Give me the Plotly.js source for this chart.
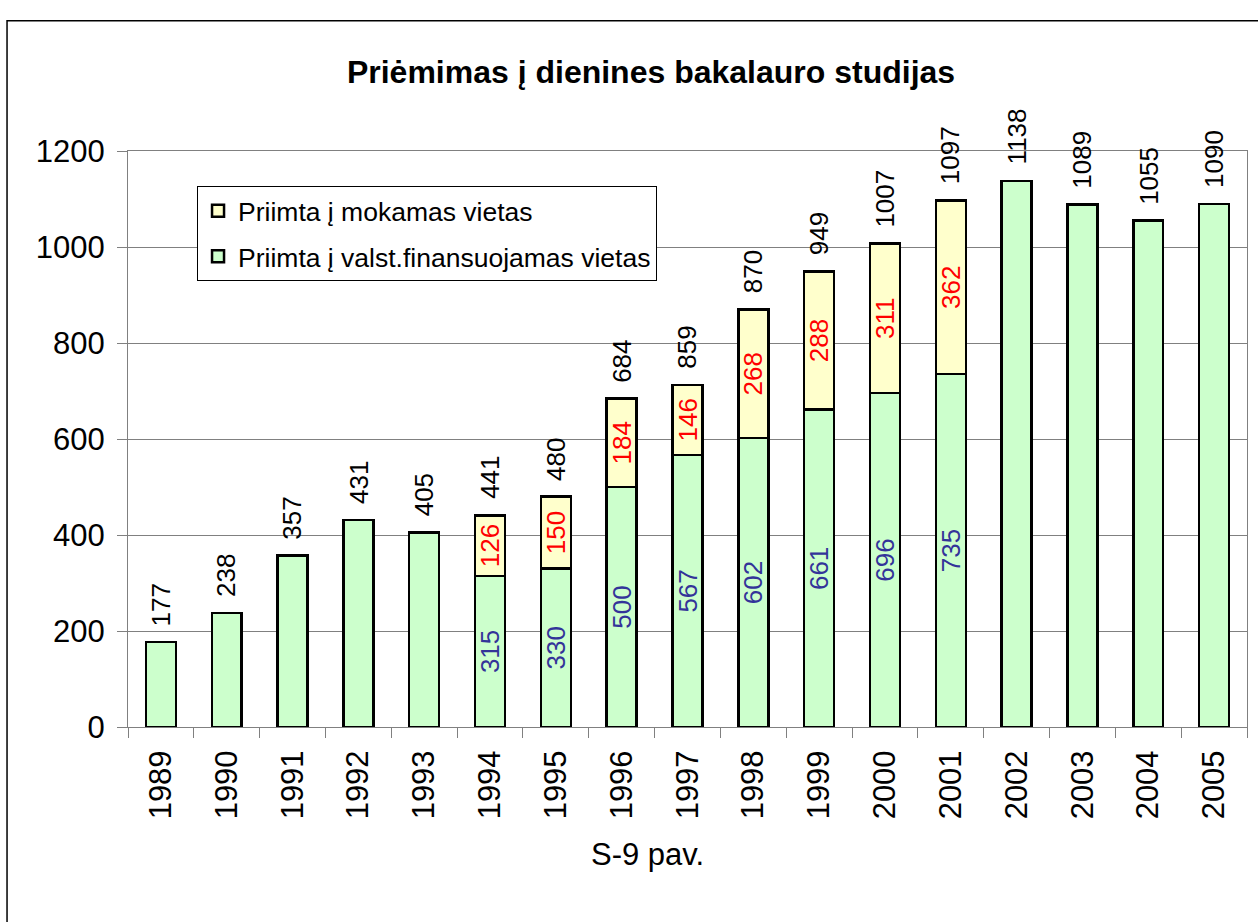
<!DOCTYPE html>
<html>
<head>
<meta charset="utf-8">
<script src="https://cdn.plot.ly/plotly-3.0.1.min.js"></script>
<style>
  html, body { margin: 0; padding: 0; background: #ffffff; }
  #chart { width: 1258px; height: 922px; }
</style>
</head>
<body>
<div id="chart"></div>
<script>
// ---- data ----
const years = ['1989','1990','1991','1992','1993','1994','1995','1996','1997','1998','1999','2000','2001','2002','2003','2004','2005'];
const stateFunded = [177, 238, 357, 431, 405, 315, 330, 500, 567, 602, 661, 696, 735, 1138, 1089, 1055, 1090];
const paidPlaces  = [null, null, null, null, null, 126, 150, 184, 146, 268, 288, 311, 362, null, null, null, null];
const totalLabels = ['177','238','357','431','405','441','480','684','859','870','949','1007','1097','1138','1089','1055','1090'];
const seriesNames = ['Priimta į valst.finansuojamas vietas', 'Priimta į mokamas vietas'];
const chartTitle = 'Priėmimas į dienines bakalauro studijas';
const captionText = 'S-9 pav.';

// ---- derived ----
const greenText = stateFunded.map((v, i) => paidPlaces[i] ? String(v) : '');
const paidText = paidPlaces.map(v => v ? String(v) : '');
const barTops = stateFunded.map((v, i) => v + (paidPlaces[i] || 0));

const FONT = 'Arial, "Liberation Sans", sans-serif';
const LABEL_SIZE = 26;

const traces = [
  {
    type: 'bar', x: years, y: stateFunded, name: seriesNames[0],
    legendgroup: 'g1', legendrank: 2,
    marker: { color: '#CCFFCC', line: { color: '#000000', width: 2.5 } },
    text: greenText, textposition: 'inside', insidetextanchor: 'middle',
    textangle: -90, constraintext: 'none',
    textfont: { family: FONT, size: LABEL_SIZE, color: '#333399' },
    hoverinfo: 'skip'
  },
  {
    type: 'bar', x: years, y: paidPlaces, name: seriesNames[1],
    legendgroup: 'g2', legendrank: 1,
    marker: { color: '#FFFFCC', line: { color: '#000000', width: 2.5 } },
    text: paidText, textposition: 'inside', insidetextanchor: 'middle',
    textangle: -90, constraintext: 'none',
    textfont: { family: FONT, size: LABEL_SIZE, color: '#FF0000' },
    hoverinfo: 'skip'
  }
];

// total labels: x given as category index (position on the category axis)
const annotations = years.map((yr, i) => ({
  x: i, y: barTops[i], xref: 'x', yref: 'y',
  text: totalLabels[i], textangle: -90, showarrow: false,
  xanchor: 'center', yanchor: 'bottom', yshift: 14,
  font: { family: FONT, size: LABEL_SIZE, color: '#000000' }
}));
annotations.push({
  x: 0.4647, y: -0.222, xref: 'paper', yref: 'paper',
  text: captionText, showarrow: false, xanchor: 'center', yanchor: 'middle',
  font: { family: FONT, size: 31, color: '#000000' }
});

const layout = {
  width: 1258, height: 922,
  margin: { l: 128, r: 11, t: 151, b: 195 },
  paper_bgcolor: '#ffffff', plot_bgcolor: '#ffffff',
  barmode: 'stack', bargap: 0.545,
  showlegend: true,
  title: {
    text: '<b>' + chartTitle + '</b>',
    x: 0.5175, xref: 'container', xanchor: 'center',
    y: 1 - 72 / 922, yref: 'container', yanchor: 'middle',
    font: { family: FONT, size: 32, color: '#000000' }
  },
  font: { family: FONT, color: '#000000' },
  xaxis: {
    type: 'category',
    range: [-0.5, years.length - 0.5], autorange: false,
    tickangle: -90,
    tickfont: { family: FONT, size: 31, color: '#000000' },
    ticks: 'outside', tickson: 'boundaries', ticklen: 10, tickcolor: '#808080', tickwidth: 1,
    ticklabelstandoff: 10,
    showline: true, linecolor: '#808080', linewidth: 1, mirror: true,
    showgrid: false, zeroline: false, fixedrange: true
  },
  yaxis: {
    range: [0, 1200], autorange: false, dtick: 200, tick0: 0,
    tickfont: { family: FONT, size: 31, color: '#000000' },
    ticks: 'outside', ticklen: 10, tickcolor: '#808080', tickwidth: 1,
    ticklabelstandoff: 6,
    showline: true, linecolor: '#808080', linewidth: 1, mirror: true,
    showgrid: true, gridcolor: '#808080', gridwidth: 1,
    zeroline: false, fixedrange: true
  },
  legend: {
    x: 0.0617, y: 0.939, xanchor: 'left', yanchor: 'top',
    xref: 'paper', yref: 'paper',
    bgcolor: '#ffffff', bordercolor: '#000000', borderwidth: 1,
    font: { family: FONT, size: 26.5, color: '#000000' },
    traceorder: 'grouped', tracegroupgap: 8,
    itemwidth: 30
  },
  shapes: [{
    type: 'rect', xref: 'paper', yref: 'paper',
    x0: -0.1081, x1: 1.02, y0: -0.36, y1: 1.226,
    line: { color: '#000000', width: 1.5 }, fillcolor: 'rgba(0,0,0,0)', layer: 'below'
  }],
  annotations: annotations
};

Plotly.newPlot('chart', traces, layout, { staticPlot: true, displayModeBar: false });
</script>
</body>
</html>
